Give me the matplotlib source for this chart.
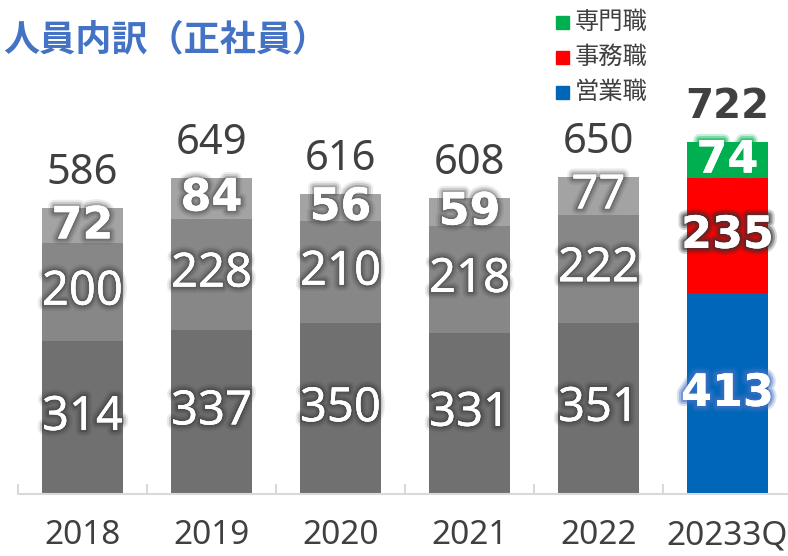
import matplotlib
matplotlib.use("Agg")
import matplotlib.pyplot as plt
import matplotlib.patheffects as pe
from matplotlib.patches import Rectangle

plt.rcParams['font.family'] = ['Noto Sans', 'Noto Sans CJK JP', 'DejaVu Sans']

categories = ['2018', '2019', '2020', '2021', '2022', '20233Q']
sales = [314, 337, 350, 331, 351, 413]       # 営業職
office = [200, 228, 210, 218, 222, 235]      # 事務職
special = [72, 84, 56, 59, 77, 74]           # 専門職
totals = [586, 649, 616, 608, 650, 722]

gray_cols = ['#707070', '#878787', '#a3a3a3']
new_cols = ['#0066b8', '#ff0000', '#00b050']
text_col = '#404040'


def glow(color, alpha=0.35):
    # ぼかし風の縁取り
    return [pe.withStroke(linewidth=9, foreground=color, alpha=alpha * 0.4),
            pe.withStroke(linewidth=6, foreground=color, alpha=alpha * 0.7),
            pe.withStroke(linewidth=3, foreground=color, alpha=alpha),
            pe.Normal()]


fig = plt.figure(figsize=(7.88, 5.56), dpi=100)
ax = fig.add_axes([18 / 788, 62 / 556, 774 / 788, 390 / 556])
x = range(len(categories))
w = 0.63

for i in x:
    last = i == len(categories) - 1
    cols = new_cols if last else gray_cols
    segs = [sales[i], office[i], special[i]]
    bottom = 0
    for k, v in enumerate(segs):
        ax.bar(i, v, w, bottom=bottom, color=cols[k], linewidth=0)
        mid = bottom + v / 2
        bold = last or (k == 2 and i < 4)
        if last:
            gcol = ['#4472c4', '#303030', '#00b050'][k]
            effects = glow(gcol, 0.5)
        else:
            effects = glow('#202020', 0.22)
        if bold:
            ax.text(i, mid, str(v), ha='center', va='center', color='white',
                    fontsize=32, fontweight='bold', family='DejaVu Sans',
                    path_effects=effects)
        else:
            ax.text(i, mid, str(v), ha='center', va='center', color='white',
                    fontsize=34, path_effects=effects)
        bottom += v
    if last:
        ax.text(i, totals[i] + 72, str(totals[i]), ha='center', va='center',
                color=text_col, fontsize=29, fontweight='bold', family='DejaVu Sans')
    else:
        ax.text(i, totals[i] + 72, str(totals[i]), ha='center', va='center',
                color=text_col, fontsize=30)

ax.set_xlim(-0.5, 5.5)
ax.set_ylim(0, 800)
ax.set_yticks([])
for s in ['top', 'right', 'left']:
    ax.spines[s].set_visible(False)
ax.spines['bottom'].set_color('#d9d9d9')
ax.spines['bottom'].set_linewidth(1.5)
ax.set_xticks(list(x))
ax.set_xticklabels(categories, fontsize=24, color=text_col)
ax.tick_params(axis='x', length=0, pad=18)
ax.set_xticks([i - 0.5 for i in range(len(categories) + 1)], minor=True)
ax.tick_params(axis='x', which='minor', direction='in', length=7,
               width=1.5, color='#d9d9d9')

fig.text(3 / 788, 1 - 40 / 556, '人員内訳（正社員）', fontsize=26,
         fontweight='bold', color='#4472c4', va='center',
         family=['Noto Sans CJK JP', 'DejaVu Sans'])

legend_items = [('専門職', new_cols[2]), ('事務職', new_cols[1]), ('営業職', new_cols[0])]
for j, (lab, c) in enumerate(legend_items):
    yc = 1 - (22 + 35 * j) / 556
    fig.patches.append(Rectangle((556 / 788, yc - 6.5 / 556), 13 / 788, 13 / 556,
                                 transform=fig.transFigure, color=c))
    fig.text(575 / 788, yc, lab, fontsize=17.5, color=text_col, va='center',
             family=['Noto Sans CJK JP', 'DejaVu Sans'])

fig.savefig('out.png', dpi=100)
